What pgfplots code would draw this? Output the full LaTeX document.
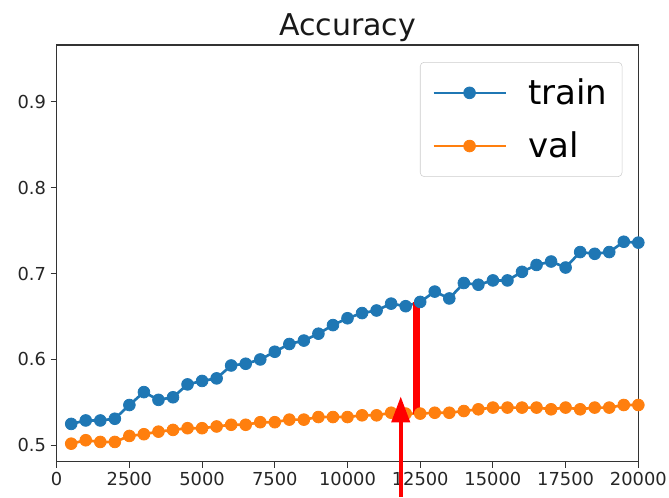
\documentclass[border=0pt]{standalone}
\usepackage{fontspec}
\setmainfont{DejaVu Sans}
\usepackage{pgfplots}
\pgfplotsset{compat=1.18}
\usetikzlibrary{arrows.meta}
\definecolor{tabblue}{HTML}{1F77B4}
\definecolor{taborange}{HTML}{FF7F0E}

\pgfplotstableread{
step train val
500 0.525 0.502
1000 0.529 0.506
1500 0.529 0.504
2000 0.531 0.504
2500 0.547 0.511
3000 0.562 0.513
3500 0.553 0.516
4000 0.556 0.518
4500 0.571 0.520
5000 0.575 0.520
5500 0.578 0.522
6000 0.593 0.524
6500 0.595 0.524
7000 0.600 0.527
7500 0.609 0.527
8000 0.618 0.530
8500 0.622 0.530
9000 0.630 0.533
9500 0.640 0.533
10000 0.648 0.533
10500 0.654 0.535
11000 0.657 0.535
11500 0.665 0.538
12000 0.662 0.537
12500 0.667 0.537
13000 0.679 0.538
13500 0.671 0.538
14000 0.689 0.540
14500 0.687 0.542
15000 0.692 0.544
15500 0.692 0.544
16000 0.702 0.544
16500 0.710 0.544
17000 0.714 0.542
17500 0.707 0.544
18000 0.725 0.542
18500 0.723 0.544
19000 0.725 0.544
19500 0.737 0.547
20000 0.736 0.547
}\acc

\begin{document}
\begin{tikzpicture}
\begin{axis}[
  scale only axis,
  width=436.2pt, height=312.5pt,
  xmin=0, xmax=20000, ymin=0.481, ymax=0.966,
  xtick={0,2500,...,20000},
  ytick={0.5,0.6,0.7,0.8,0.9},
  scaled x ticks=false,
  x tick label style={/pgf/number format/1000 sep={}},
  y tick label style={/pgf/number format/.cd, fixed, fixed zerofill, precision=1},
  /pgf/number format/assume math mode=true,
  tick align=outside, tick pos=left,
  major tick length=4.5pt,
  tick style={black!80, line width=0.8pt},
  axis line style={black!80, line width=0.8pt},
  ticklabel style={font=\fontsize{13.4}{16}\selectfont, text=black!85},
  title={Accuracy},
  title style={font=\fontsize{22.5}{27}\selectfont, at={(0.5,1)}, anchor=base, yshift=1.5pt, text=black!90},
  legend style={at={(1,1)}, anchor=north east, xshift=-12pt, yshift=-12.75pt,
    draw=black!20, rounded corners=3pt, fill=white,
    font=\fontsize{25.5}{30}\selectfont, row sep=15pt, column sep=14pt,
    inner xsep=9pt, inner ysep=10.5pt},
  legend cell align=left,
  legend image code/.code={\draw[mark repeat=2,mark phase=2,#1] plot coordinates {(0pt,0pt) (27pt,0pt) (54pt,0pt)};},
  every axis plot/.append style={line width=2pt, mark=*, mark size=4.4pt, mark options={solid, line width=0.6pt}},
  after end axis/.code={
    \draw[red, line width=3pt, -{Triangle[width=13.5pt,length=19.5pt]}]
      (axis cs:11830,0.440) -- (axis cs:11830,0.557);
  },
]
\addplot[color=tabblue] table[x=step, y=train] {\acc};
\addlegendentry{train}
\addplot[color=taborange] table[x=step, y=val] {\acc};
\addlegendentry{val}
\addplot[red, line width=5.25pt, mark=none, forget plot] coordinates {(12380,0.536) (12380,0.667)};
\end{axis}
\pgfresetboundingbox
\path ([xshift=-42.5pt,yshift=-26.5pt]current axis.south west) rectangle ([xshift=23pt,yshift=33.75pt]current axis.north east);
\end{tikzpicture}
\end{document}
